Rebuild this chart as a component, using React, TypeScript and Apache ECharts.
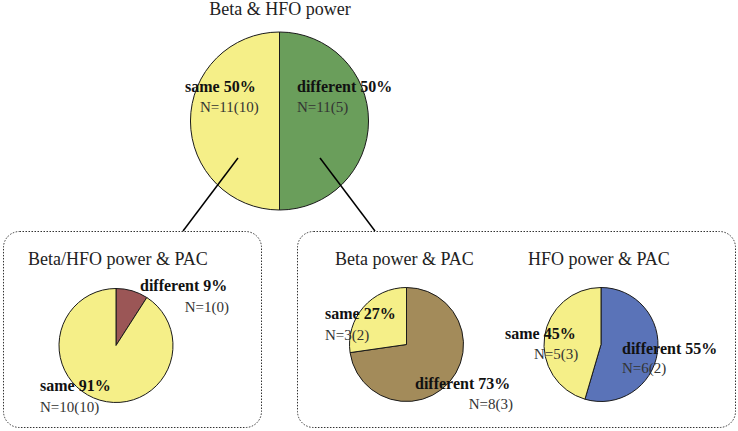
import React, { useEffect, useRef } from "react";
import * as echarts from "echarts";

const FONT = "'Liberation Serif', 'Times New Roman', Times, serif";

// ---- data ----
const pieTitles = ["Beta & HFO power", "Beta/HFO power & PAC", "Beta power & PAC", "HFO power & PAC"];
const sameCounts = [11, 10, 3, 5];
const sameSub = [10, 10, 2, 3];
const diffCounts = [11, 1, 8, 6];
const diffSub = [5, 0, 3, 2];
const diffColors = ["#6A9E5B", "#9B5656", "#A38B5A", "#5A73B8"];
const sameColor = "#F5EF88";

// ---- layout (pixels) ----
const pieCenters: [number, number][] = [[279.5, 121], [116, 345.5], [406.5, 344.5], [601, 344.5]];
const pieRadii = [89, 57, 57, 57];
const titlePos = [
  { x: 280, y: 9, align: "center" },
  { x: 28, y: 259, align: "left" },
  { x: 335, y: 259, align: "left" },
  { x: 528, y: 259, align: "left" },
];
// [labelX, labelY, nX, nY, nAlign]
const sameLabelPos: [number, number, number, number, string][] = [
  [185, 86, 200, 107, "left"],
  [40, 385, 40, 407, "left"],
  [325, 313, 325, 335, "left"],
  [505, 333, 534, 354, "left"],
];
const diffLabelPos: [number, number, number, number, string][] = [
  [297, 86, 297, 107, "left"],
  [140, 285, 229, 307, "right"],
  [415, 383, 513, 404, "right"],
  [622, 348, 622, 368, "left"],
];

export default function App() {
  const ref = useRef<HTMLDivElement>(null);
  useEffect(() => {
    if (!ref.current) return;
    const chart = echarts.init(ref.current, null, { renderer: "svg" });

    const series = pieTitles.map((t, i) => ({
      type: "pie",
      name: t,
      center: pieCenters[i],
      radius: [0, pieRadii[i]],
      startAngle: 90,
      clockwise: true,
      silent: true,
      label: { show: false },
      labelLine: { show: false },
      itemStyle: { borderColor: "#1a1a1a", borderWidth: 1 },
      emphasis: { disabled: true },
      data: [
        { name: "different", value: diffCounts[i], itemStyle: { color: diffColors[i] } },
        { name: "same", value: sameCounts[i], itemStyle: { color: sameColor } },
      ],
    }));

    const texts: any[] = [];
    pieTitles.forEach((t, i) => {
      texts.push({
        type: "text",
        x: titlePos[i].x,
        y: titlePos[i].y,
        z: 100,
        style: {
          text: t,
          font: `18px ${FONT}`,
          fill: "#222",
          textAlign: titlePos[i].align,
          textVerticalAlign: "middle",
        },
      });
      const total = sameCounts[i] + diffCounts[i];
      const samePct = Math.round((sameCounts[i] / total) * 100);
      const diffPct = Math.round((diffCounts[i] / total) * 100);
      const groups: [string, number, number, number, [number, number, number, number, string]][] = [
        ["same", samePct, sameCounts[i], sameSub[i], sameLabelPos[i]],
        ["different", diffPct, diffCounts[i], diffSub[i], diffLabelPos[i]],
      ];
      groups.forEach(([name, pct, n, sub, pos]) => {
        texts.push({
          type: "text",
          x: pos[0],
          y: pos[1],
          z: 100,
          style: {
            text: `${name} ${pct}%`,
            font: `bold 16px ${FONT}`,
            fill: "#111",
            textAlign: "left",
            textVerticalAlign: "middle",
          },
        });
        texts.push({
          type: "text",
          x: pos[2],
          y: pos[3],
          z: 100,
          style: {
            text: `N=${n}(${sub})`,
            font: `15px ${FONT}`,
            fill: "#333",
            textAlign: pos[4],
            textVerticalAlign: "middle",
          },
        });
      });
    });

    const boxStyle = { fill: "none", stroke: "#333", lineWidth: 1, lineDash: [1.5, 1.5] };
    const graphics: any[] = [
      {
        type: "rect",
        z: 50,
        shape: { x: 3.5, y: 231.5, width: 258, height: 196, r: 16 },
        style: boxStyle,
      },
      {
        type: "rect",
        z: 50,
        shape: { x: 297.5, y: 231.5, width: 438, height: 196, r: 16 },
        style: boxStyle,
      },
      {
        type: "line",
        z: 60,
        shape: { x1: 238, y1: 158, x2: 183, y2: 231 },
        style: { stroke: "#000", lineWidth: 1.5 },
      },
      {
        type: "line",
        z: 60,
        shape: { x1: 320, y1: 158, x2: 375, y2: 231 },
        style: { stroke: "#000", lineWidth: 1.5 },
      },
      ...texts,
    ];

    chart.setOption({
      animation: false,
      backgroundColor: "#ffffff",
      series,
      graphic: { elements: graphics },
    });
    return () => chart.dispose();
  }, []);
  return (
    <div
      ref={ref}
      style={{ position: "fixed", left: 0, top: 0, width: 738, height: 431 }}
    />
  );
}
